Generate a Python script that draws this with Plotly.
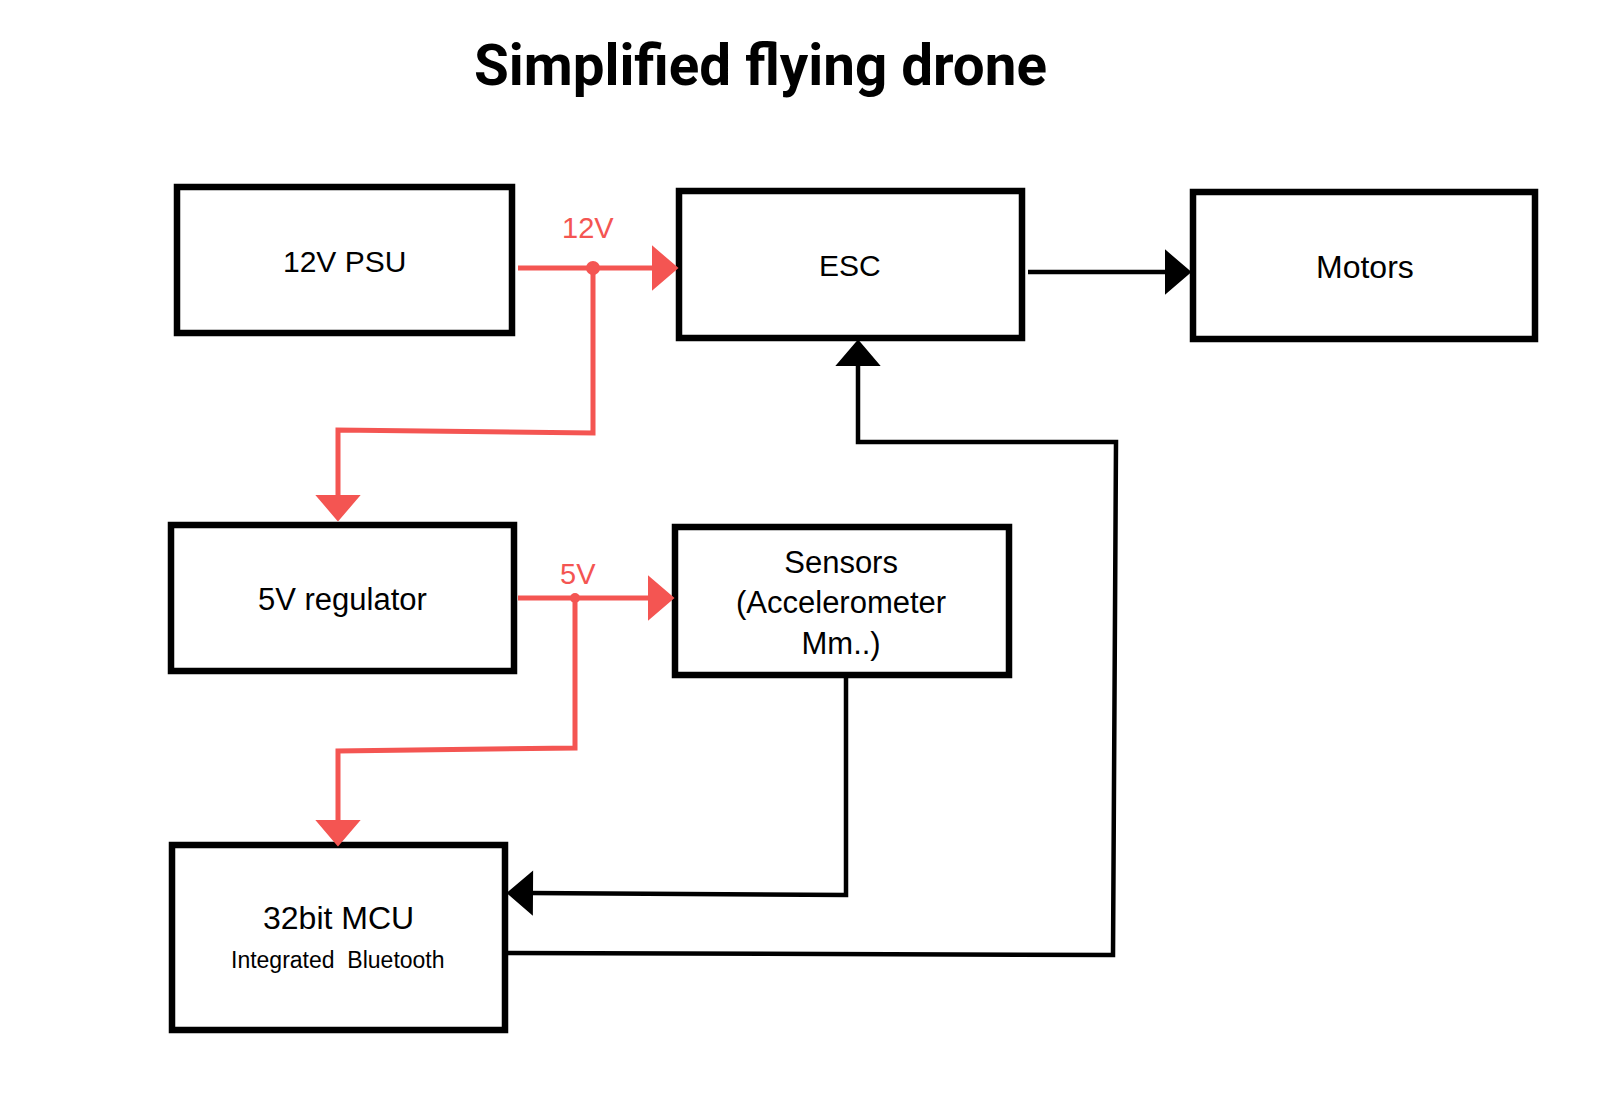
import plotly.graph_objects as go

# block diagram, coordinates in page pixels (y grows downward)
box_names = ["psu", "esc", "motors", "reg", "sensors", "mcu"]
box_text = ["12V PSU", "ESC", "Motors", "5V regulator",
            "Sensors<br>(Accelerometer<br>Mm..)", "32bit MCU"]
box_x0 = [177, 679, 1193, 171, 675, 172]
box_y0 = [187, 191, 192, 525, 527, 845]
box_x1 = [512, 1022, 1535, 514, 1009, 505]
box_y1 = [333, 338, 339, 671, 675, 1030]
text_x = [344, 850, 1365, 342, 841, 338]
text_y = [261, 265, 267, 599, 603, 918]
text_size = [30, 30, 32, 31, 31, 32]

sub_text = "Integrated\u00a0\u00a0Bluetooth"
sub_x, sub_y = 338, 960

# wires: (points, colour)
RED = "#F45552"
wires = [
    ([(518, 268), (677, 268)], RED),
    ([(593, 268), (593, 433), (338, 430), (338, 520)], RED),
    ([(518, 598), (673, 598)], RED),
    ([(575, 598), (575, 748), (338, 751), (338, 845)], RED),
    ([(1028, 272), (1190, 272)], "black"),
    ([(846, 675), (846, 895), (508, 893)], "black"),
    ([(508, 953), (1113, 955), (1116, 442), (858, 442), (858, 341)], "black"),
]
dots_x = [593, 575]
dots_r = [7, 5]
dots_y = [268, 598]

volt_labels = ["12V", "5V"]
volt_x = [588, 578]
volt_y = [228, 574]

head_len = 24
head_w = 41

# the page body has an 8px margin, shift the axes so page pixels line up
PAD = 8
W, H = 1613 - 2 * PAD, 1108 - 2 * PAD

shapes = []
for x0, y0, x1, y1 in zip(box_x0, box_y0, box_x1, box_y1):
    shapes.append(dict(type="rect", x0=x0, y0=y0, x1=x1, y1=y1,
                       line=dict(color="black", width=6.5)))

for pts, col in wires:
    (ax, ay), (tx, ty) = pts[-2], pts[-1]
    d = ((tx - ax) ** 2 + (ty - ay) ** 2) ** 0.5
    ux, uy = (tx - ax) / d, (ty - ay) / d
    bx, by = tx - ux * head_len, ty - uy * head_len
    line_pts = pts[:-1] + [(bx + ux * 3, by + uy * 3)]
    path = "M " + " L ".join(f"{x},{y}" for x, y in line_pts)
    lw = 5 if col == RED else 4.5
    shapes.append(dict(type="path", path=path, line=dict(color=col, width=lw)))
    nx, ny = -uy, ux
    tri = (f"M {tx},{ty} L {bx + nx * head_w / 2},{by + ny * head_w / 2} "
           f"L {bx - nx * head_w / 2},{by - ny * head_w / 2} Z")
    shapes.append(dict(type="path", path=tri, fillcolor=col,
                       line=dict(color=col, width=2)))

for x, y, r in zip(dots_x, dots_y, dots_r):
    shapes.append(dict(type="circle", x0=x - r, x1=x + r, y0=y - r, y1=y + r,
                       fillcolor=RED, line=dict(width=0)))

annotations = []
for t, x, y, s in zip(box_text, text_x, text_y, text_size):
    annotations.append(dict(text=t, x=x, y=y, showarrow=False,
                            font=dict(size=s, color="black")))
annotations.append(dict(text=sub_text, x=sub_x, y=sub_y, showarrow=False,
                        font=dict(size=23, color="black")))
for t, x, y in zip(volt_labels, volt_x, volt_y):
    annotations.append(dict(text=t, x=x, y=y, showarrow=False,
                            font=dict(size=29, color=RED)))
annotations.append(dict(text="<b>Simplified flying drone</b>", x=760, y=66,
                        showarrow=False,
                        font=dict(size=56.5, color="black", family="Roboto")))

fig = go.Figure()
fig.update_layout(
    width=W, height=H,
    margin=dict(l=0, r=0, t=0, b=0),
    paper_bgcolor="white", plot_bgcolor="white",
    font=dict(family="Liberation Sans, Arial, sans-serif"),
    xaxis=dict(range=[PAD, PAD + W], visible=False, fixedrange=True),
    yaxis=dict(range=[PAD + H, PAD], visible=False, fixedrange=True),
    shapes=shapes, annotations=annotations, showlegend=False,
)
fig.write_html("out.html")
